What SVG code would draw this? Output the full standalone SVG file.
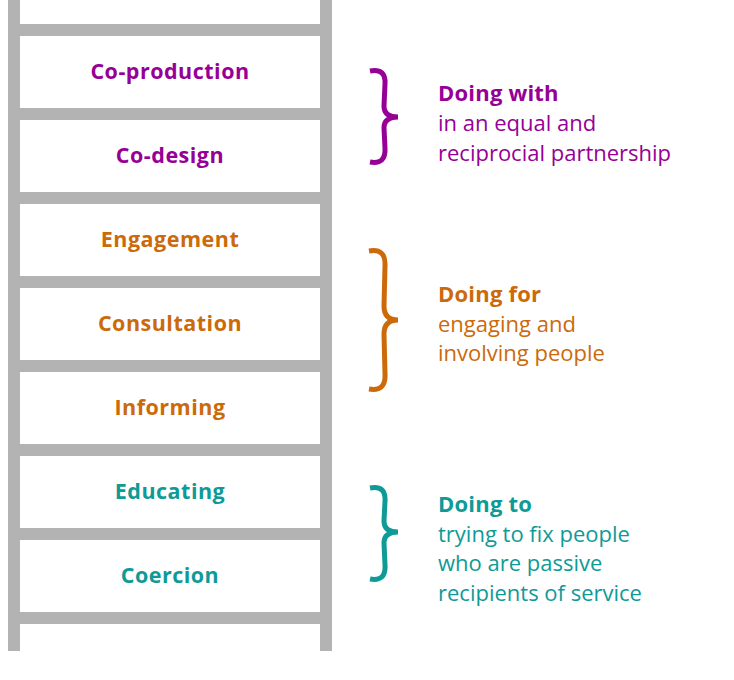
<svg xmlns="http://www.w3.org/2000/svg" width="734" height="680" viewBox="0 0 734 680">
<style>
.rail{fill:#b3b3b3}
.lbl{font-family:"Open Sans","Liberation Sans",sans-serif;font-weight:bold;font-size:21.5px;letter-spacing:0.5px;text-anchor:middle}
.hd{font-family:"Open Sans","Liberation Sans",sans-serif;font-weight:bold;font-size:22px;letter-spacing:0.2px}
.tx{font-family:"Open Sans","Liberation Sans",sans-serif;font-size:22px}
.brace{fill:none;stroke-width:5;stroke-linecap:butt}
.p{fill:#960096}.o{fill:#cc6a0a}.t{fill:#0e9a97}
</style>
<rect width="734" height="680" fill="#fff"/>
<g id="ladder">
<rect class="rail" x="8" y="0" width="12" height="651"/>
<rect class="rail" x="320" y="0" width="12" height="651"/>
<rect class="rail" x="20" y="24" width="300" height="12"/>
<rect class="rail" x="20" y="108" width="300" height="12"/>
<rect class="rail" x="20" y="192" width="300" height="12"/>
<rect class="rail" x="20" y="276" width="300" height="12"/>
<rect class="rail" x="20" y="360" width="300" height="12"/>
<rect class="rail" x="20" y="444" width="300" height="12"/>
<rect class="rail" x="20" y="528" width="300" height="12"/>
<rect class="rail" x="20" y="612" width="300" height="12"/>
</g>
<g id="rung-coproduction"><text class="lbl p" x="170" y="79">Co-production</text></g>
<g id="rung-codesign"><text class="lbl p" x="170" y="163">Co-design</text></g>
<g id="rung-engagement"><text class="lbl o" x="170" y="247">Engagement</text></g>
<g id="rung-consultation"><text class="lbl o" x="170" y="331">Consultation</text></g>
<g id="rung-informing"><text class="lbl o" x="170" y="415">Informing</text></g>
<g id="rung-educating"><text class="lbl t" x="170" y="499">Educating</text></g>
<g id="rung-coercion"><text class="lbl t" x="170" y="583">Coercion</text></g>
<g id="group-with">
<path class="brace" stroke="#960096" d="M370,71 Q386,68 385,84 L384,106 Q384,117 398,117 Q384,117 384,128 L385,148 Q386,165 370,162"/>
<text class="hd p" x="438" y="101">Doing with</text>
<text class="tx p" x="438" y="131">in an equal and</text>
<text class="tx p" x="438" y="161">reciprocial partnership</text>
</g>
<g id="group-for">
<path class="brace" stroke="#cc6a0a" d="M369,251 Q386,248 385,266 L384,306 Q384,320 398,320 Q384,320 384,334 L385,374 Q386,392 369,389"/>
<text class="hd o" x="438" y="302">Doing for</text>
<text class="tx o" x="438" y="332">engaging and</text>
<text class="tx o" x="438" y="361">involving people</text>
</g>
<g id="group-to">
<path class="brace" stroke="#0e9a97" d="M370,488 Q386,485 385,501 L384,521 Q384,532 398,532 Q384,532 384,543 L385,565 Q386,582 370,579"/>
<text class="hd t" x="438" y="512">Doing to</text>
<text class="tx t" x="438" y="542">trying to fix people</text>
<text class="tx t" x="438" y="571">who are passive</text>
<text class="tx t" x="438" y="601">recipients of service</text>
</g>
</svg>
